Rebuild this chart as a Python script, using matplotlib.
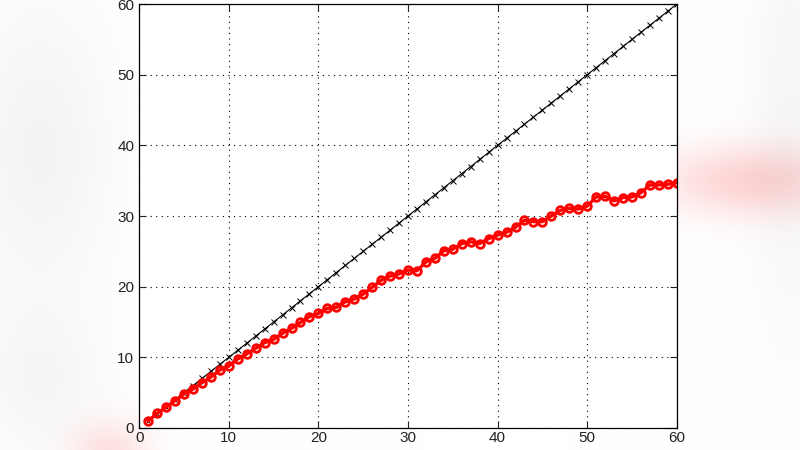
import matplotlib
matplotlib.use("Agg")
import matplotlib.pyplot as plt
import numpy as np

# x positions and the two series
x = np.arange(1, 61)
ref = np.arange(1, 61)
est = [1.0, 2.07, 2.93, 3.87, 4.8, 5.5, 6.4, 7.2, 8.2, 8.77,
       9.76, 10.47, 11.27, 12.07, 12.54, 13.4, 14.1, 14.95, 15.75, 16.2,
       16.93, 17.07, 17.87, 18.25, 18.95, 19.9, 20.9, 21.5, 21.8, 22.35,
       22.25, 23.5, 24.0, 25.1, 25.3, 26.1, 26.35, 26.1, 26.8, 27.3,
       27.7, 28.4, 29.4, 29.2, 29.2, 30.0, 30.8, 31.1, 31.0, 31.4,
       32.7, 32.8, 32.15, 32.6, 32.7, 33.3, 34.4, 34.4, 34.5, 34.7]
ticks = [0, 10, 20, 30, 40, 50, 60]

plt.rcParams['font.family'] = ['Liberation Sans', 'DejaVu Sans']

fig = plt.figure(figsize=(8, 4.5), dpi=100)

# soft blurred backdrop around the plot (screenshot edges)
W, H = 800, 450
yy, xx = np.mgrid[0:H, 0:W]
bg = np.ones((H, W, 3))
def blob(cx, cy, sx, sy, col, amt):
    g = amt * np.exp(-(((xx - cx) / sx) ** 2 + ((yy - cy) / sy) ** 2))
    for c in range(3):
        bg[:, :, c] -= g * (1 - col[c])
blob(40, 150, 70, 140, (0.9, 0.9, 0.9), 0.45)
blob(40, 380, 60, 70, (0.9, 0.9, 0.9), 0.35)
blob(790, 120, 40, 200, (0.9, 0.9, 0.9), 0.35)
blob(750, 180, 90, 35, (1.0, 0.72, 0.72), 0.6)
blob(110, 455, 40, 35, (1.0, 0.8, 0.8), 0.6)
bg = np.clip(bg, 0, 1)
bgax = fig.add_axes([0, 0, 1, 1], zorder=-1)
bgax.imshow(bg, aspect="auto", interpolation="bilinear")
bgax.axis("off")

ax = fig.add_axes([0.174, 0.049, 0.672, 0.942], zorder=1)
ax.set_facecolor("white")

ax.plot(x, ref, "k-", marker="x", markersize=5, linewidth=0.8, markeredgewidth=0.7)
ax.plot(x, est, color="red", linewidth=2.4, marker="o", markersize=5.5,
        markerfacecolor="none", markeredgewidth=2)

ax.set_xlim(0, 60)
ax.set_ylim(0, 60)
ax.set_xticks(ticks)
ax.set_yticks(ticks)
ax.grid(True, color="black", linestyle=(0, (1, 4)), linewidth=0.8)
ax.tick_params(direction="in", length=5, width=0.8, labelsize=11,
               top=True, right=True, colors="#222222")
ax.tick_params(axis="x", pad=2)
for s in ax.spines.values():
    s.set_linewidth(0.9)

fig.savefig("out.png", dpi=100)
